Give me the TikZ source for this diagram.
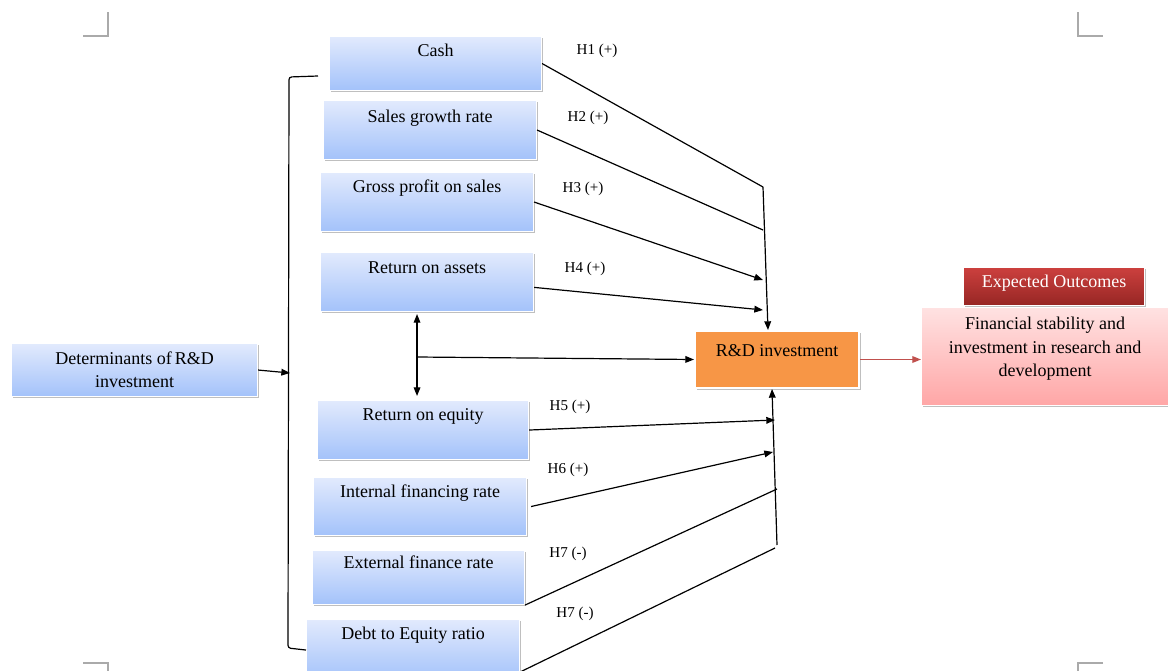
\documentclass[tikz,border=0pt]{standalone}
\usepackage{fontspec}
\setmainfont{Liberation Serif}
\usetikzlibrary{arrows.meta,shadows,calc}
\definecolor{bluetop}{RGB}{226,234,253}
\definecolor{bluebot}{RGB}{163,194,250}
\definecolor{pinktop}{RGB}{255,226,226}
\definecolor{pinkbot}{RGB}{255,166,166}
\definecolor{redtop}{RGB}{204,64,62}
\definecolor{redbot}{RGB}{150,38,36}
\definecolor{rdorange}{RGB}{247,150,70}
\definecolor{linkred}{RGB}{192,80,77}
\definecolor{markgray}{RGB}{170,170,170}
\begin{document}
\begin{tikzpicture}[x=0.75pt,y=-0.75pt,
  shadowed/.style={drop shadow={shadow xshift=1.2pt,shadow yshift=-1.2pt,opacity=0.25,fill=black}},
  varbox/.style={shadowed,draw=white,line width=0.8pt,top color=bluetop,bottom color=bluebot,
    anchor=north west,inner sep=0pt,font=\fontsize{13.5}{15}\selectfont},
  hlabel/.style={font=\fontsize{11.3}{13}\selectfont,inner sep=0pt},
  conn/.style={line width=0.9pt,black},
  arr/.style={conn,-{Triangle[length=6.5pt,width=5pt]}},
  cornermark/.style={markgray,line width=0.8pt}]
\useasboundingbox (0,0) rectangle (1168,671);

% page corner marks
\draw[cornermark] (108,12) -- (108,36) -- (83,36);
\draw[cornermark] (1078,12) -- (1078,36) -- (1103,36);
\draw[cornermark] (83,663) -- (108,663) -- (108,672);
\draw[cornermark] (1103,663) -- (1078,663) -- (1078,672);

% variable boxes
\node[varbox,minimum width=159pt,text height=15pt,text depth=25.5pt] (cash) at (329,36) {Cash};
\node[varbox,minimum width=159.75pt,text height=16.5pt,text depth=27.75pt] (sales) at (323,100) {Sales growth rate};
\node[varbox,minimum width=159.75pt,text height=15pt,text depth=29.25pt] (gross) at (320,172) {Gross profit on sales};
\node[varbox,minimum width=159.75pt,text height=15.75pt,text depth=28.5pt] (roa) at (320,252) {Return on assets};
\node[varbox,minimum width=158.25pt,text height=15pt,text depth=29.25pt] (roe) at (317,400) {Return on equity};
\node[varbox,minimum width=159.75pt,text height=15pt,text depth=28.5pt] (internal) at (313,477) {Internal financing rate};
\node[varbox,minimum width=159pt,text height=13.5pt,text depth=27pt] (external) at (312,550) {External finance rate};
\node[varbox,minimum width=159.75pt,text height=15pt,text depth=30.75pt] (debt) at (306,619) {Debt to Equity ratio};

\node[varbox,minimum width=184.5pt,minimum height=39.75pt,align=center,
  font=\fontsize{13.5}{17.5}\selectfont] (det) at (11,343) {Determinants of\,R\&D\\investment};

\node[shadowed,draw=white,line width=1.5pt,fill=rdorange,anchor=north west,inner sep=0pt,
  minimum width=123pt,text height=18.75pt,text depth=24pt,font=\fontsize{13.5}{15}\selectfont] (rd) at (694,330) {R\&D investment};

\node[shadowed,draw=white,line width=0.8pt,top color=redtop,bottom color=redbot,anchor=north west,inner sep=0pt,
  minimum width=135.75pt,text height=15pt,text depth=13.5pt,text=white,font=\fontsize{13.5}{15}\selectfont] (exp) at (963,267) {Expected Outcomes};

\node[shadowed,draw=white,line width=0.8pt,top color=pinktop,bottom color=pinkbot,anchor=north west,inner sep=0pt,
  minimum width=185.25pt,text height=51.75pt,text depth=21.75pt,align=center,font=\fontsize{13.5}{17.6}\selectfont] (fin) at (921,307)
  {Financial stability and\\investment in research and\\development};

% hypothesis labels
\node[hlabel] (h1) at (597,51) {H1 (+)};
\node[hlabel] (h2) at (588,118) {H2 (+)};
\node[hlabel] (h3) at (583,189) {H3 (+)};
\node[hlabel] (h4) at (585,269) {H4 (+)};
\node[hlabel] (h5) at (570,407) {H5 (+)};
\node[hlabel] (h6) at (568,470) {H6 (+)};
\node[hlabel] (h7a) at (568,554) {H7 (-)};
\node[hlabel] (h7b) at (575,614) {H7 (-)};

% junction coordinates
\coordinate (jtop) at (763,187);
\coordinate (jsales) at (763,230);
\coordinate (jgross) at (763,280);
\coordinate (jroa) at (763,310);
\coordinate (jbot) at (777,545);
\coordinate (jroe) at (775,420);
\coordinate (jint) at (773,452);
\coordinate (jext) at (777,489);
\coordinate (jdebt) at (775,548);
\coordinate (jmid) at (417,357);
\coordinate (brtop) at (318,76);
\coordinate (brmid) at (290,373);

% bracket
\draw[conn,rounded corners=2pt] (brtop) -- (289,77) -- (288,648) -- (debt.west);
\draw[arr] (det.east) -- (brmid);

% upper connectors
\draw[conn] (cash.east) -- (jtop);
\draw[conn] (sales.east) -- (jsales);
\draw[arr] (gross.east) -- (jgross);
\draw[arr] ([yshift=-4pt]roa.east) -- (jroa);
\draw[arr] (jtop) -- ([xshift=-6.75pt]rd.north);

% ROA / ROE link
\draw[conn,{Triangle[length=6.5pt,width=5pt]}-{Triangle[length=6.5pt,width=5pt]}] ([xshift=-7.5pt,yshift=-1.5pt]roa.south) -- ([xshift=-4.5pt,yshift=3pt]roe.north);
\draw[arr] (jmid) -- (rd.west);

% lower connectors
\draw[arr] (roe.east) -- (jroe);
\draw[arr] ([xshift=3pt]internal.east) -- (jint);
\draw[conn] (external.south east) -- (jext);
\draw[conn] ([yshift=-16.5pt]debt.east) -- (jdebt);
\draw[arr] (jbot) -- ([xshift=-3.75pt]rd.south);

% outcome link
\draw[line width=0.9pt,linkred,-{Triangle[length=6.5pt,width=5pt]}] (rd.east) -- (rd.east -| fin.west);
\end{tikzpicture}
\end{document}
